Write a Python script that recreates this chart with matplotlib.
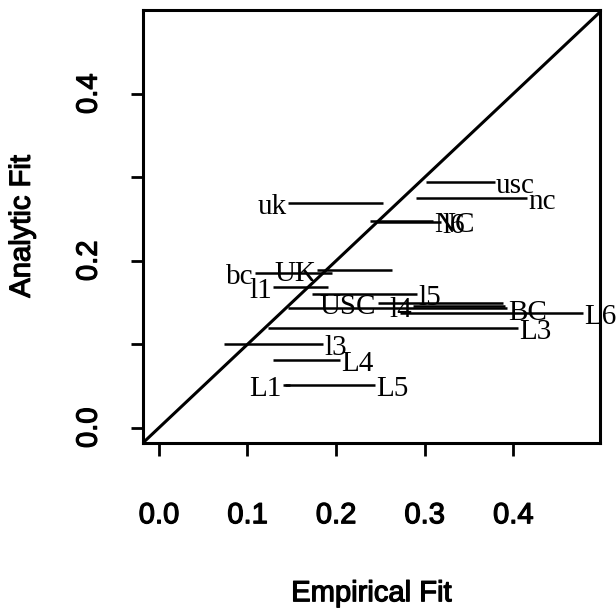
import numpy as np
import matplotlib
matplotlib.use("Agg")
import matplotlib.pyplot as plt
import matplotlib.patheffects as pe

# segments: label, empirical-fit range (lo, hi), analytic fit, label side
labels = ["usc", "nc", "uk", "NC", "l6", "bc", "UK", "l1", "l5", "USC",
          "l4", "BC", "L6", "L3", "l3", "L4", "L1", "L5"]
x_lo = [0.302, 0.290, 0.146, 0.238, 0.246, 0.108, 0.179, 0.129, 0.173, 0.247,
        0.287, 0.146, 0.272, 0.123, 0.074, 0.129, 0.140, 0.142]
x_hi = [0.379, 0.416, 0.253, 0.309, 0.318, 0.196, 0.263, 0.191, 0.291, 0.388,
        0.391, 0.393, 0.479, 0.405, 0.185, 0.204, 0.148, 0.244]
y_an = [0.295, 0.275, 0.269, 0.248, 0.247, 0.186, 0.189, 0.169, 0.160, 0.150,
        0.146, 0.143, 0.138, 0.120, 0.101, 0.081, 0.051, 0.051]
side = ["r", "r", "l", "r", "r", "l", "l", "l", "r", "l",
        "l", "r", "r", "r", "r", "r", "l", "r"]

xticks = [0.0, 0.1, 0.2, 0.3, 0.4]
yticks = [0.0, 0.1, 0.2, 0.3, 0.4]
yticklabels = ["0.0", "", "0.2", "", "0.4"]

# slightly heavier sans text, like the scanned original
heavy = [pe.withStroke(linewidth=0.9, foreground="black")]

fig = plt.figure(figsize=(6.16, 6.16), dpi=100)
ax = fig.add_axes([0.232, 0.281, 0.742, 0.703])

ax.set_xlim(-0.018, 0.498)
ax.set_ylim(-0.018, 0.5006)

ax.axline((0, 0), slope=1, color="black", lw=2.2)

for lab, a, b, yy, s in zip(labels, x_lo, x_hi, y_an, side):
    ax.plot([a, b], [yy, yy], color="black", lw=1.8, solid_capstyle="butt")
    if s == "r":
        ax.annotate(lab, (b, yy), xytext=(1, -3), textcoords="offset points",
                    ha="left", va="center", family="Liberation Serif",
                    fontsize=21, annotation_clip=False)
    else:
        ax.annotate(lab, (a, yy), xytext=(-1, -3), textcoords="offset points",
                    ha="right", va="center", family="Liberation Serif",
                    fontsize=21, annotation_clip=False)

for sp in ax.spines.values():
    sp.set_linewidth(2.2)

ax.set_xticks(xticks)
ax.set_xticklabels(["%.1f" % v for v in xticks], family="Liberation Sans",
                   fontsize=21, path_effects=heavy)
ax.set_yticks(yticks)
ax.set_yticklabels(yticklabels, family="Liberation Sans", fontsize=21,
                   rotation=90, va="center", path_effects=heavy)
ax.tick_params(direction="out", length=9, width=2)
ax.tick_params(axis="x", pad=33)
ax.tick_params(axis="y", pad=20)

ax.set_xlabel("Empirical Fit", family="Liberation Sans", fontsize=21,
              labelpad=36, path_effects=heavy)
ax.set_ylabel("Analytic Fit", family="Liberation Sans", fontsize=21,
              labelpad=28, path_effects=heavy)

fig.savefig("out.png", dpi=100)
